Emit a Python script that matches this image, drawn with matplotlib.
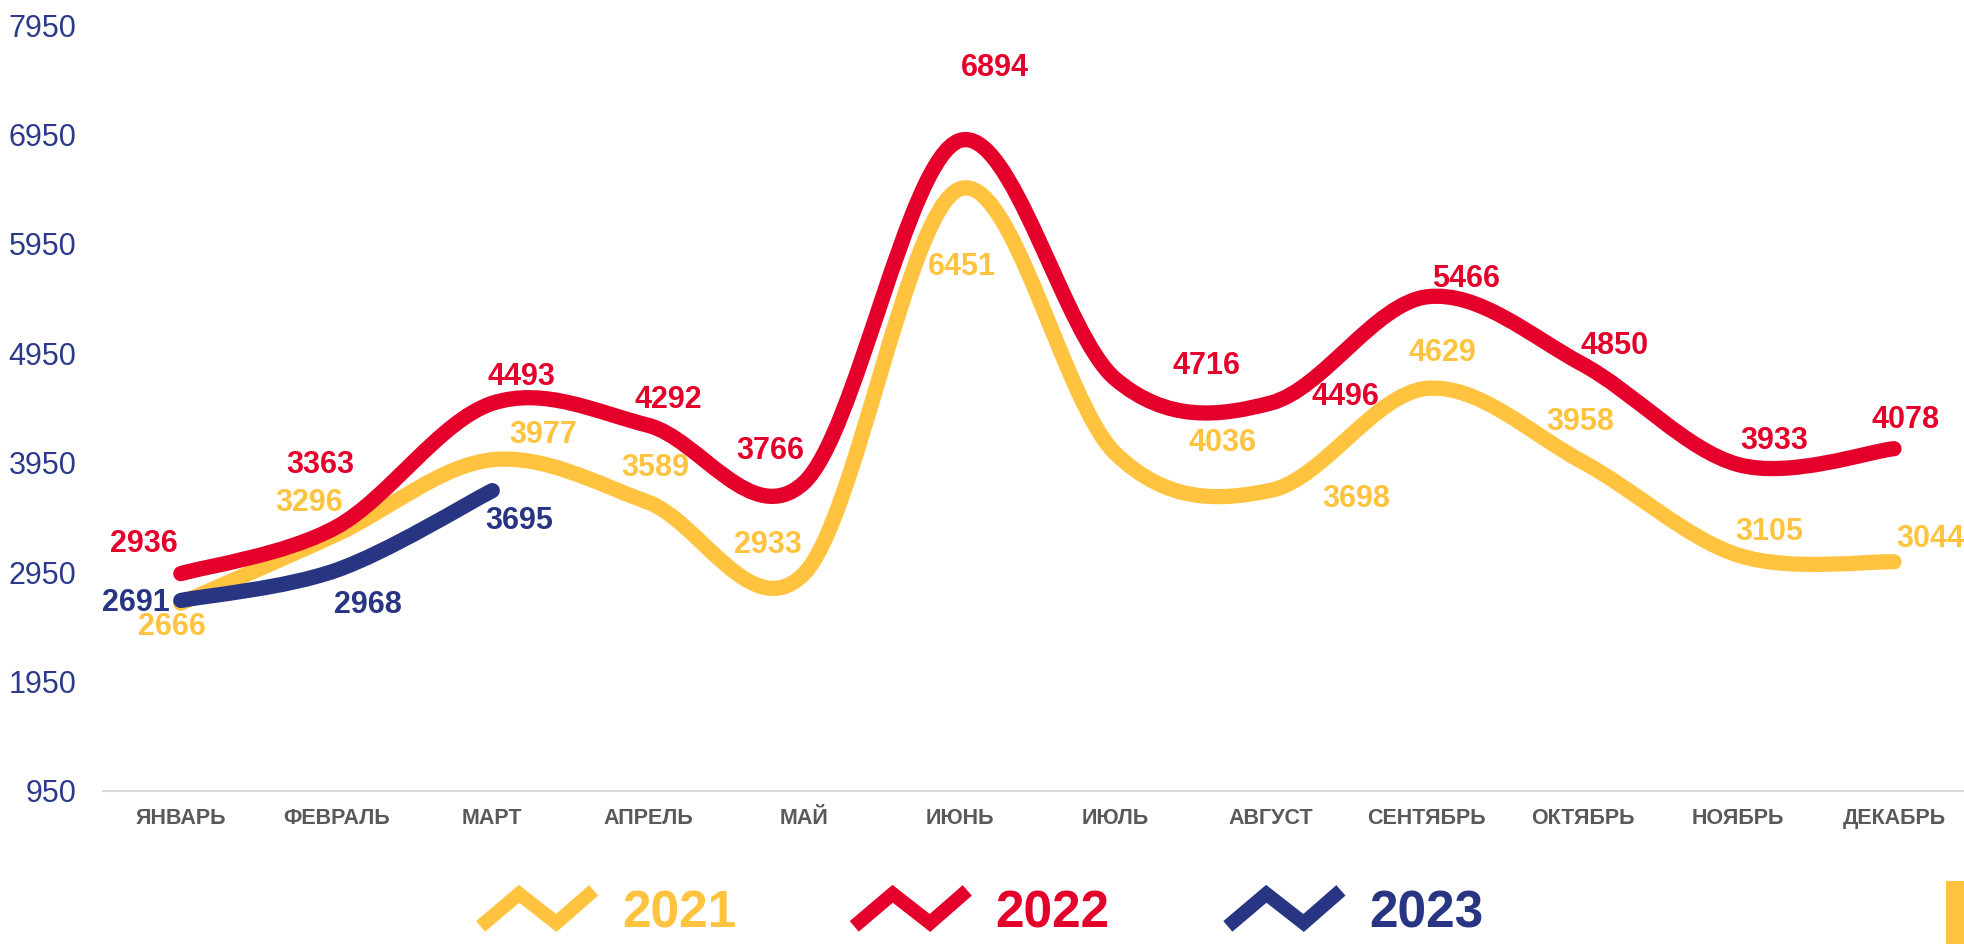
import matplotlib.pyplot as plt
import numpy as np
from matplotlib.path import Path
from matplotlib.patches import PathPatch, Rectangle
from matplotlib.lines import Line2D
from matplotlib.legend_handler import HandlerBase

plt.rcParams['font.family'] = ['Liberation Sans', 'DejaVu Sans']

# Data
months = ['ЯНВАРЬ', 'ФЕВРАЛЬ', 'МАРТ', 'АПРЕЛЬ', 'МАЙ', 'ИЮНЬ',
          'ИЮЛЬ', 'АВГУСТ', 'СЕНТЯБРЬ', 'ОКТЯБРЬ', 'НОЯБРЬ', 'ДЕКАБРЬ']
y2021 = [2666, 3296, 3977, 3589, 2933, 6451, 4036, 3698, 4629, 3958, 3105, 3044]
y2022 = [2936, 3363, 4493, 4292, 3766, 6894, 4716, 4496, 5466, 4850, 3933, 4078]
y2023 = [2691, 2968, 3695]
yticks = [950, 1950, 2950, 3950, 4950, 5950, 6950, 7950]

YELLOW = '#FFC33F'
RED = '#E4002B'
NAVY = '#283583'

# label offsets (pixels) - labels were placed by hand in the original
off2021 = [(-9, -24), (-27, 31), (51, 25), (7, 34), (-36, 29), (2, -78),
           (107, 10), (85, -9), (16, 35), (-2, 40), (31, 23), (36, 23)]
off2022 = [(-37, 30), (-16, 62), (29, 26), (20, 25), (-34, 32), (35, 73),
           (91, 13), (74, 6), (39, 18), (32, 18), (36, 24), (12, 29)]
off2023 = [(-45, -3), (31, -35), (27, -30)]


def smooth_path(xs, ys):
    # excel-like smoothed line: catmull-rom as cubic bezier
    pts = np.column_stack([xs, ys]).astype(float)
    n = len(pts)
    verts = [pts[0]]
    codes = [Path.MOVETO]
    for i in range(n - 1):
        p0 = pts[i - 1] if i > 0 else pts[i]
        p1 = pts[i]
        p2 = pts[i + 1]
        p3 = pts[i + 2] if i + 2 < n else pts[i + 1]
        c1 = p1 + (p2 - p0) / 6
        c2 = p2 - (p3 - p1) / 6
        verts += [c1, c2, p2]
        codes += [Path.CURVE4] * 3
    return Path(verts, codes)


class ZigzagHandler(HandlerBase):
    def create_artists(self, legend, orig_handle, xdescent, ydescent,
                       width, height, fontsize, trans):
        fx = [0, 0.34, 0.67, 1.0]
        fy = [0.0, 0.95, 0.1, 1.05]
        xs = [-xdescent + width * f for f in fx]
        ys = [-ydescent + height * f for f in fy]
        ln = Line2D(xs, ys, color=orig_handle.get_color(), lw=10,
                    solid_joinstyle='miter', solid_capstyle='butt',
                    transform=trans)
        return [ln]


fig = plt.figure(figsize=(19.64, 9.44), dpi=100)
ax = fig.add_axes([0.0524, 0.1621, 0.9516, 0.8114])

x = np.arange(len(months))
series = [(y2021, YELLOW, off2021, 2), (y2022, RED, off2022, 3), (y2023, NAVY, off2023, 4)]
for vals, col, offs, z in series:
    xs = x[:len(vals)]
    patch = PathPatch(smooth_path(xs, vals), fill=False, edgecolor=col, lw=11,
                      capstyle='round', joinstyle='round', zorder=z)
    ax.add_patch(patch)
    for xi, v, (dx, dy) in zip(xs, vals, offs):
        ax.annotate(str(v), (xi, v), xytext=(dx, dy), textcoords='offset pixels',
                    ha='center', va='center', fontsize=22, fontweight='bold',
                    color=col, zorder=6)

ax.set_xlim(-0.5, 11.5)
ax.set_ylim(950, 7950)
ax.set_xticks(x)
ax.set_xticklabels(months, fontsize=15.5, fontweight='bold', color='#595959')
ax.set_yticks(yticks)
ax.set_yticklabels([str(t) for t in yticks], fontsize=22, color='#2B3A8C')
ax.tick_params(axis='x', length=0, pad=12)
ax.tick_params(axis='y', length=0, pad=19)
for s in ['top', 'right', 'left']:
    ax.spines[s].set_visible(False)
ax.spines['bottom'].set_color('#D9D9D9')
ax.spines['bottom'].set_linewidth(1.5)

handles = [Line2D([], [], color=YELLOW), Line2D([], [], color=RED), Line2D([], [], color=NAVY)]
leg = fig.legend(handles, ['2021', '2022', '2023'], loc='center', bbox_to_anchor=(0.5, 0.032),
                 ncol=3, frameon=False, handler_map={Line2D: ZigzagHandler()},
                 prop={'size': 37, 'weight': 'bold'}, handlelength=2.2, handleheight=0.65,
                 handletextpad=0.55, columnspacing=2.3, borderpad=0)
for t, c in zip(leg.get_texts(), [YELLOW, RED, NAVY]):
    t.set_color(c)

fig.add_artist(Rectangle((0.9908, 0.0), 0.0092, 0.0667, transform=fig.transFigure,
                         color=YELLOW, lw=0))

fig.savefig('out.png', dpi=100)
